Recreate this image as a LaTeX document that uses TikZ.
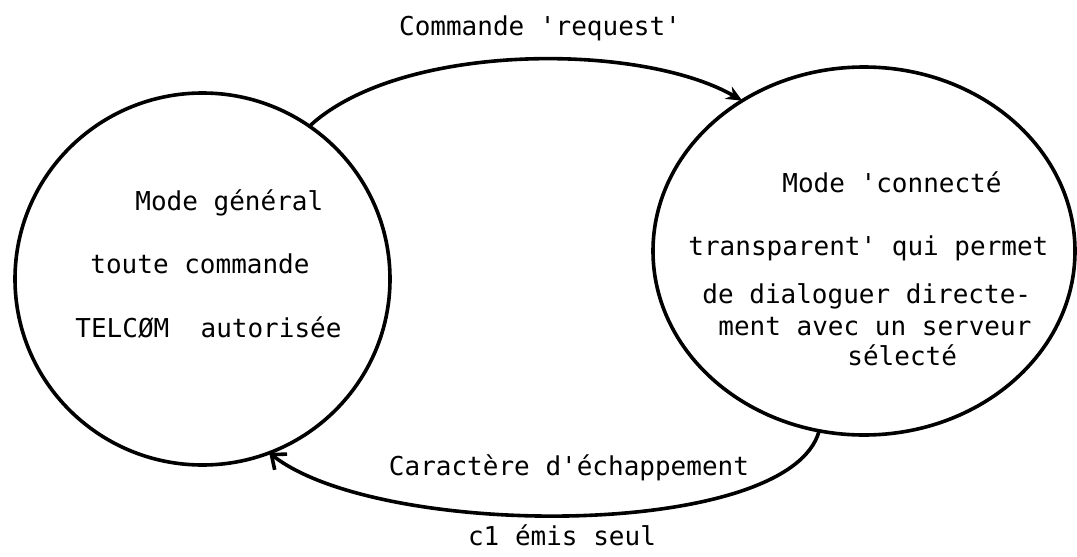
\documentclass[tikz,border=0pt]{standalone}
\usepackage{fontspec}
\setmonofont{DejaVu Sans Mono}
\usetikzlibrary{arrows.meta,shapes.geometric}
\tikzset{
  state/.style={ellipse, draw=black, line width=1.8pt, inner sep=0pt, outer sep=0pt},
  txt/.style={font=\ttfamily\fontsize{13}{15}\selectfont, anchor=base west, inner sep=0pt},
  lbl/.style={font=\ttfamily\fontsize{13}{15}\selectfont, anchor=base, inner sep=0pt},
  trans/.style={line width=1.8pt, draw=black, line cap=round},
}

\begin{document}
\begin{tikzpicture}[x=0.5pt, y=-0.5pt]
\useasboundingbox (0,0) rectangle (1077,557);
% ---------------------------------------------------------------- states
\node[state, minimum width=187.5pt, minimum height=186pt] (general) at (202.5,279) {};
\node[state, minimum width=211pt, minimum height=184pt] (connecte) at (864,251) {};
% ---------------------------------------------------------------- texts in the states
\node[txt] (g1) at (135,210) {Mode général};
\node[txt] (g2) at (90,273) {toute commande};
\node[txt] (g3) at (75,337) {TELCØM\ \ autorisée};
\node[txt] (c1) at (782,192) {Mode 'connecté};
\node[txt] (c2) at (688,255) {transparent' qui permet};
\node[txt] (c3) at (702,303) {de dialoguer directe-};
\node[txt] (c4) at (718,335) {ment avec un serveur};
\node[txt] (c5) at (847,365) {sélecté};
% ---------------------------------------------------------------- transitions
\draw[trans, -{Stealth[length=8pt, width=7pt]}] (general.55) .. controls (400,42) and (640,42) .. (connecte.129);
\draw[trans, -{Straight Barb[length=6pt, width=10pt]}] (connecte.-104) .. controls (790,540) and (380,540) .. (general.-69.5);
\node[lbl] (req) at (540,35) {Commande 'request'};
\node[lbl] (esc) at (569,475) {Caractère d'échappement};
\node[lbl] (seul) at (562,545) {c1 émis seul};
\end{tikzpicture}
\end{document}
